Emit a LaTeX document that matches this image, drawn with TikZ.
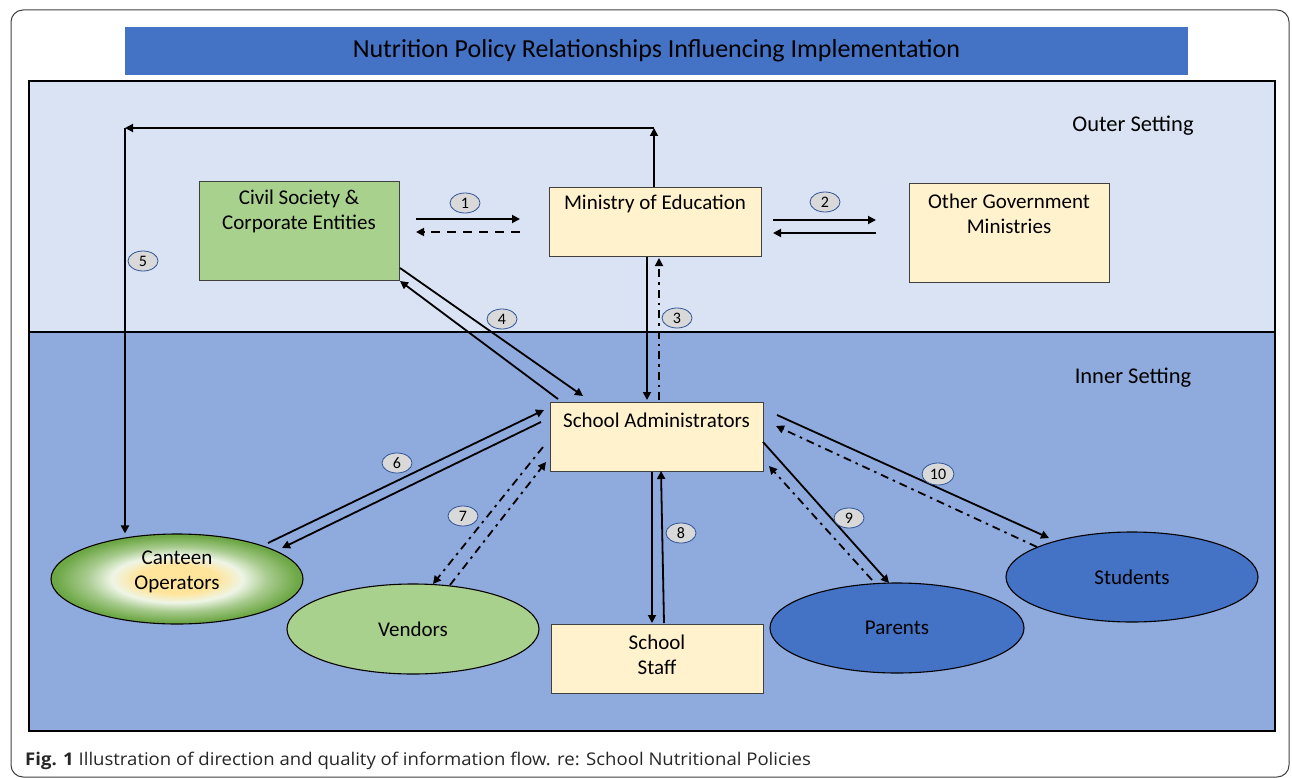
\documentclass[tikz,border=0pt]{standalone}
\usepackage{fontspec}
\setmainfont{Carlito}
\newfontfamily\capfont{Open Sans}[FakeStretch=1.06]
\usetikzlibrary{arrows.meta,shapes.geometric,calc}
\definecolor{titleblue}{HTML}{4472C4}
\definecolor{outerbg}{HTML}{DAE3F3}
\definecolor{innerbg}{HTML}{8FAADC}
\definecolor{lgreen}{HTML}{A9D18E}
\definecolor{dgreen}{HTML}{6EA846}
\definecolor{lyellow}{HTML}{FFF2CC}
\definecolor{cyellow}{HTML}{FFE59C}
\definecolor{cwhite}{HTML}{EEF5E6}
\definecolor{badgegray}{HTML}{D9D9D9}
\definecolor{badgeblue}{HTML}{2F5597}
\definecolor{boxline}{HTML}{404040}
\pgfdeclareradialshading{canteenshade}{\pgfpoint{0bp}{0bp}}{%
  color(0bp)=(cyellow); color(8bp)=(cyellow); color(13bp)=(cwhite);
  color(18bp)=(cwhite!45!dgreen); color(24bp)=(dgreen); color(72bp)=(dgreen)}
\tikzset{
  region/.style={draw=black, line width=2.5pt},
  rbox/.style={draw=boxline, line width=0.9pt, inner sep=0pt},
  ell/.style={ellipse, draw=black, line width=1.1pt, inner sep=0pt},
  lbl/.style={font=\fontsize{21}{25}\selectfont, align=center, inner sep=0pt},
  badge/.style={ellipse, fill=badgegray, draw=badgeblue, line width=0.8pt,
    minimum width=30pt, minimum height=20pt, inner sep=0pt,
    font=\fontsize{16}{16}\selectfont},
  arr/.style={line width=1.8pt, -{Triangle[length=8pt,width=8pt]}},
  dsh/.style={dash pattern=on 9pt off 7pt},
  ddot/.style={dash pattern=on 8pt off 5pt on 2.5pt off 5pt}
}
\begin{document}
\begin{tikzpicture}[x=1pt,y=-1pt]
\useasboundingbox (0,0) rectangle (1292,778);
\fill[white] (0,0) rectangle (1292,778);
\draw[draw=black!75, line width=1pt, rounded corners=12pt] (11,10) rectangle (1289,777);

% title
\node[fill=titleblue, minimum width=1063pt, minimum height=48pt, inner sep=0pt,
  font=\fontsize{26}{26}\selectfont] (title) at (656.5,51) {Nutrition Policy Relationships Influencing Implementation};

% regions
\node[region, fill=outerbg, minimum width=1246pt, minimum height=251pt, inner sep=0pt] (outer) at (652,206.5) {};
\node[region, fill=innerbg, minimum width=1246pt, minimum height=399pt, inner sep=0pt] (inner) at (652,531.5) {};
\node[lbl, font=\fontsize{22.5}{24}\selectfont] (outerlbl) at (1133,126) {Outer Setting};
\node[lbl, font=\fontsize{22.5}{24}\selectfont] (innerlbl) at (1133,378) {Inner Setting};

% boxes
\node[rbox, fill=lgreen, minimum width=200pt, minimum height=99pt] (cs) at (299,230.5) {};
\node[lbl] (cstext) at (299,211.5) {Civil Society \&\\Corporate Entities};
\node[rbox, fill=lyellow, minimum width=212pt, minimum height=69pt] (moe) at (655,221.5) {};
\node[lbl] (moetext) at (655,204) {Ministry of Education};
\node[rbox, fill=lyellow, minimum width=200pt, minimum height=99pt] (ogm) at (1009,232.5) {};
\node[lbl] (ogmtext) at (1009,213.5) {Other Government\\Ministries};
\node[rbox, fill=lyellow, minimum width=213pt, minimum height=69pt] (sa) at (656.5,436.5) {};
\node[lbl] (satext) at (656.5,420) {School Administrators};
\node[rbox, fill=lyellow, minimum width=212pt, minimum height=69pt] (ss) at (657,658.5) {};
\node[lbl] (sstext) at (657,654.5) {School\\Staff};

% ellipses
\node[ell, shading=canteenshade, minimum width=252pt, minimum height=90pt] (can) at (177,579) {};
\node[lbl] (cantext) at (177,572) {Canteen\\Operators};
\node[ell, fill=lgreen, minimum width=252pt, minimum height=90pt] (ven) at (413,629) {};
\node[lbl] (ventext) at (413,629) {Vendors};
\node[ell, fill=titleblue, minimum width=254pt, minimum height=90pt] (par) at (897,628) {};
\node[lbl] (partext) at (897,628) {Parents};
\node[ell, fill=titleblue, minimum width=252pt, minimum height=90pt] (stu) at (1132,577) {};
\node[lbl] (stutext) at (1132,577) {Students};

% connector end points
\coordinate (a1a) at (416,219); \coordinate (a1b) at (520,219);
\coordinate (a1c) at (520,232); \coordinate (a1d) at (416,232);
\coordinate (a2a) at (773,220); \coordinate (a2b) at (876,220);
\coordinate (a2c) at (876,233); \coordinate (a2d) at (773,233);
\coordinate (loopR) at (654,128); \coordinate (loopL) at (125,128);
\coordinate (a3a) at (647,257); \coordinate (a3b) at (647,400);
\coordinate (a3c) at (659,400); \coordinate (a3d) at (659,258);
\coordinate (a4a) at (400,268); \coordinate (a4b) at (583,396);
\coordinate (a4c) at (558,399); \coordinate (a4d) at (400,281);
\coordinate (a6a) at (268,543); \coordinate (a6b) at (544,410);
\coordinate (a6c) at (541,422); \coordinate (a6d) at (282,548);
\coordinate (a7a) at (543,447); \coordinate (a7b) at (433,584);
\coordinate (a7c) at (450,585); \coordinate (a7d) at (546,462);
\coordinate (a8a) at (652,472); \coordinate (a8b) at (652,623);
\coordinate (a8c) at (664,623); \coordinate (a8d) at (661,471);
\coordinate (a9a) at (763,442); \coordinate (a9b) at (889,583);
\coordinate (a9c) at (872,580); \coordinate (a9d) at (769,466);
\coordinate (a10a) at (777,415); \coordinate (a10b) at (1049,538);
\coordinate (a10c) at (1037,547); \coordinate (a10d) at (776,426);

% connectors
\draw[arr] (a1a) -- (a1b);
\draw[arr, dsh] (a1c) -- (a1d);
\draw[arr] (a2a) -- (a2b);
\draw[arr] (a2c) -- (a2d);
\draw[arr] (moe.north -| loopR) -- (loopR);
\draw[arr] (loopR) -- (loopL);
\draw[arr] (loopL) -- (loopL |- can.north);
\draw[arr] (a3a) -- (a3b);
\draw[arr, ddot] (a3c) -- (a3d);
\draw[arr] (a4a) -- (a4b);
\draw[arr] (a4c) -- (a4d);
\draw[arr] (a6a) -- (a6b);
\draw[arr] (a6c) -- (a6d);
\draw[arr, ddot] (a7a) -- (a7b);
\draw[arr, ddot] (a7c) -- (a7d);
\draw[arr] (a8a) -- (a8b);
\draw[arr] (a8c) -- (a8d);
\draw[arr] (a9a) -- (a9b);
\draw[arr, ddot] (a9c) -- (a9d);
\draw[arr] (a10a) -- (a10b);
\draw[arr, ddot] (a10c) -- (a10d);

% badges
\node[badge] (b1) at (465,203) {1};
\node[badge] (b2) at (825,202) {2};
\node[badge] (b3) at (677,318) {3};
\node[badge] (b4) at (502,319) {4};
\node[badge] (b5) at (143,261) {5};
\node[badge] (b6) at (397,463) {6};
\node[badge] (b7) at (463,516) {7};
\node[badge] (b8) at (681,533) {8};
\node[badge] (b9) at (849,518) {9};
\node[badge, minimum width=32pt, minimum height=22pt] (b10) at (938,474) {10};

% caption
\node[anchor=base west, inner sep=0pt, text=black!85, font=\capfont\fontsize{17.5}{17.5}\selectfont] (cap) at (25,765)
  {\textbf{Fig. 1} Illustration of direction and quality of information flow. re: School Nutritional Policies};
\end{tikzpicture}
\end{document}
